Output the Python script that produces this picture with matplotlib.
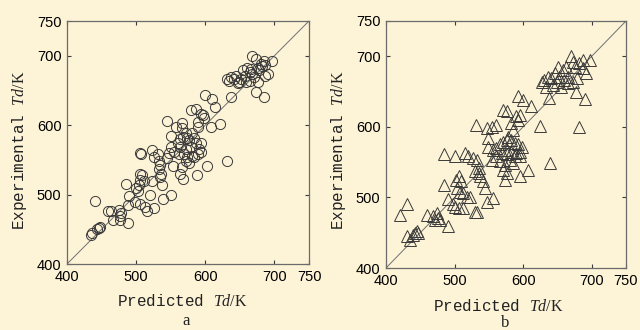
import matplotlib
matplotlib.use("Agg")
import matplotlib.pyplot as plt

plt.rcParams['mathtext.fontset'] = 'custom'
plt.rcParams['mathtext.it'] = 'Liberation Serif:italic'
plt.rcParams['mathtext.rm'] = 'Liberation Serif'

# panel a: predicted vs experimental Td (K), circles
pred_a = [440, 435, 436, 446, 448, 444, 463, 460, 466, 477, 476, 478, 475, 488, 488, 486, 490,
          499, 500, 502, 506, 505, 509, 511, 504, 506, 513, 516, 526, 520, 523, 539, 551,
          505, 507, 523, 526, 531, 533, 535, 533, 536, 538, 535, 544, 551, 550, 548, 545, 554,
          557, 567, 566, 560, 564, 568, 572, 574, 577, 581, 584, 586, 591, 594, 589, 579, 572,
          564, 562, 555, 569, 574, 581, 572, 567, 564, 568, 577, 584, 594, 588, 603, 631,
          580, 586, 594, 596, 598, 589, 599, 609, 614, 608, 622, 589,
          637, 632, 634, 637, 642, 644, 649, 652, 657, 654, 661, 664, 659, 666, 668, 673, 676,
          678, 680, 685, 687, 690, 687, 697, 682, 671, 676, 665, 673, 685, 647, 668]
exp_a = [491, 442, 445, 452, 454, 451, 477, 476, 463, 463, 469, 474, 478, 459, 485, 515, 498,
         490, 509, 505, 521, 530, 528, 519, 514, 487, 482, 477, 480, 500, 519, 493, 499,
         560, 558, 564, 554, 558, 549, 542, 537, 530, 514, 526, 606, 585, 568, 560, 552, 541,
         598, 603, 596, 575, 580, 583, 588, 582, 578, 588, 581, 574, 566, 561, 559, 568, 566,
         568, 559, 561, 559, 554, 556, 548, 540, 530, 523, 545, 554, 574, 528, 541, 548,
         622, 623, 616, 614, 611, 604, 644, 637, 626, 598, 601, 597,
         640, 667, 663, 669, 667, 671, 662, 667, 671, 679, 683, 676, 662, 681, 700, 695, 683,
         679, 688, 693, 686, 674, 671, 693, 685, 669, 662, 664, 648, 640, 660, 674]

# panel b: triangles
pred_b = [421, 431, 430, 435, 443, 445, 447, 440, 460, 469, 474, 476, 479, 472, 491, 485, 490,
          497, 501, 506, 513, 502, 506, 510, 503, 508, 513, 518, 522, 484, 501, 515, 520, 527, 532,
          530, 535, 536, 537, 530, 532, 547, 556, 544, 542, 531, 547, 554, 561, 549, 549,
          556, 561, 566, 571, 576, 578, 583, 588, 593, 598, 595, 590, 583, 576, 569, 561, 554,
          566, 573, 581, 588, 595, 571, 576, 573, 576, 585, 595, 607, 639, 624, 682,
          571, 576, 583, 590, 595, 593, 585, 593, 600, 611, 638,
          627, 631, 636, 641, 646, 649, 653, 658, 663, 660, 665, 670, 673, 676, 682, 687, 692,
          697, 679, 673, 665, 677, 690, 634, 643, 655, 687, 651]
exp_b = [475, 490, 446, 439, 450, 452, 450, 447, 475, 474, 478, 471, 468, 468, 460, 517, 498,
         491, 487, 485, 485, 525, 530, 523, 513, 507, 506, 501, 501, 562, 558, 563, 558, 556, 553,
         537, 534, 542, 530, 480, 479, 494, 499, 513, 523, 603, 598, 600, 603, 584, 572,
         567, 570, 575, 579, 582, 586, 582, 577, 575, 572, 565, 563, 565, 567, 563, 558, 553,
         551, 546, 553, 558, 558, 539, 534, 525, 561, 549, 530, 539, 549, 601, 600,
         624, 622, 605, 615, 617, 610, 596, 644, 638, 629, 641,
         664, 667, 671, 669, 676, 664, 671, 681, 685, 667, 671, 700, 692, 685, 690, 695, 676,
         695, 669, 664, 662, 649, 639, 657, 659, 657, 683, 685]

ticks = [400, 500, 600, 700, 750]
bg = "#FDF3D7"
ink = "#3a3a3a"

fig = plt.figure(figsize=(6.4, 3.3), dpi=100, facecolor=bg)
ax_a = fig.add_axes([67 / 640, 1 - 264 / 330, 242 / 640, 243 / 330])
ax_b = fig.add_axes([386 / 640, 1 - 268 / 330, 240 / 640, 247 / 330])

for ax in (ax_a, ax_b):
    ax.set_facecolor(bg)
    ax.plot([400, 750], [400, 750], color="#707070", lw=0.7, zorder=1)
    ax.set_xlim(400, 750)
    ax.set_ylim(400, 750)
    ax.set_xticks(ticks)
    ax.set_yticks(ticks)
    ax.tick_params(direction="in", length=3, width=0.8, color=ink, top=True, right=True,
                   labelsize=10.5, pad=4)
    for lab in ax.get_xticklabels() + ax.get_yticklabels():
        lab.set_family("Liberation Sans")
    for sp in ax.spines.values():
        sp.set_color("#6b6b6b")
        sp.set_linewidth(0.9)

ax_a.plot(pred_a, exp_a, linestyle="none", marker="o", markersize=7.3,
          markerfacecolor="none", markeredgecolor=ink, markeredgewidth=0.7, zorder=2)
ax_b.plot(pred_b, exp_b, linestyle="none", marker="^", markersize=8.5,
          markerfacecolor="none", markeredgecolor=ink, markeredgewidth=0.7, zorder=2)

lab_kw = dict(family="Liberation Mono", fontsize=11.5, color="#222222",
              ha="center", va="center")
fig.text(182 / 640, 1 - 301 / 330, r"Predicted $\mathit{Td}/\mathrm{K}$", **lab_kw)
fig.text(20 / 640, 1 - 150 / 330, r"Experimental $\mathit{Td}/\mathrm{K}$", rotation=90, **lab_kw)
fig.text(498 / 640, 1 - 306 / 330, r"Predicted $\mathit{Td}/\mathrm{K}$", **lab_kw)
fig.text(339 / 640, 1 - 150 / 330, r"Experimental $\mathit{Td}/\mathrm{K}$", rotation=90, **lab_kw)

fig.text(186 / 640, 1 - 321 / 330, "a", family="Liberation Serif", fontsize=12,
         color="#222222", ha="center", va="center")
fig.text(505 / 640, 1 - 323 / 330, "b", family="Liberation Serif", fontsize=12,
         color="#222222", ha="center", va="center")

fig.savefig("out.png", dpi=100, facecolor=bg)
